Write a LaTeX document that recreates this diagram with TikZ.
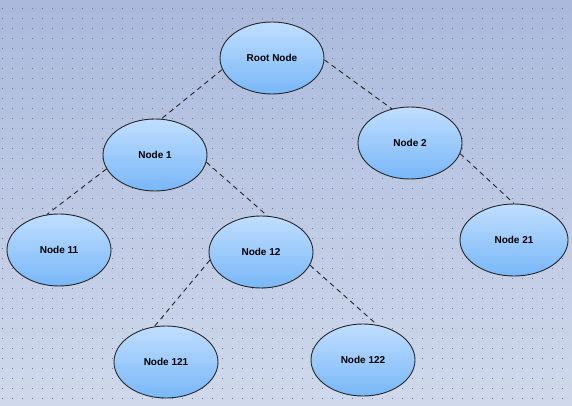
\documentclass[tikz,border=0pt]{standalone}
\usepackage{fontspec}
\setmainfont{Liberation Sans}
\usepackage{tikz}
\usetikzlibrary{shapes.geometric, positioning}

\definecolor{bgtop}{HTML}{AAB9DC}
\definecolor{bgbottom}{HTML}{D0D9EB}
\definecolor{dotcol}{HTML}{66759F}
\definecolor{nodetop}{HTML}{C0DEFF}
\definecolor{nodebottom}{HTML}{78B7F8}

\begin{document}
\begin{tikzpicture}[x=1pt, y=-1pt,
    treenode/.style={ellipse, draw=black!85, line width=0.9pt,
        top color=nodetop, bottom color=nodebottom,
        minimum width=104pt, minimum height=72pt, inner sep=0pt,
        font=\fontsize{10}{12}\selectfont\bfseries},
    link/.style={draw=black!85, line width=0.9pt, dash pattern=on 5pt off 4pt}]

    % Background with dotted grid
    \shade[top color=bgtop, bottom color=bgbottom] (0,0) rectangle (572,406);
    \useasboundingbox (0,0) rectangle (572,406);
    \foreach \i in {0,...,56}
        \foreach \j in {0,...,39}
            \fill[dotcol] (2+10*\i,8+10*\j) rectangle ++(1,1);

    % Nodes of the tree
    \node[treenode] (root) at (272,58) {Root Node};
    \node[treenode] (n1) at (155,155) {Node 1};
    \node[treenode] (n2) at (410,143) {Node 2};
    \node[treenode] (n11) at (59,250) {Node 11};
    \node[treenode] (n12) at (261,252) {Node 12};
    \node[treenode, minimum width=108pt] (n21) at (514,240) {Node 21};
    \node[treenode] (n121) at (166,362) {Node 121};
    \node[treenode] (n122) at (363,360) {Node 122};

    % Edges (dashed)
    \draw[link] (root.193) -- (n1.80);
    \draw[link] (root.358) -- (n2.118);
    \draw[link] (n1.196) -- (n11.109);
    \draw[link] (n1.352) -- (n12.80);
    \draw[link] (n2.348) -- (n21.90);
    \draw[link] (n12.189) -- (n121.108);
    \draw[link] (n12.345) -- (n122.68);

\end{tikzpicture}
\end{document}
